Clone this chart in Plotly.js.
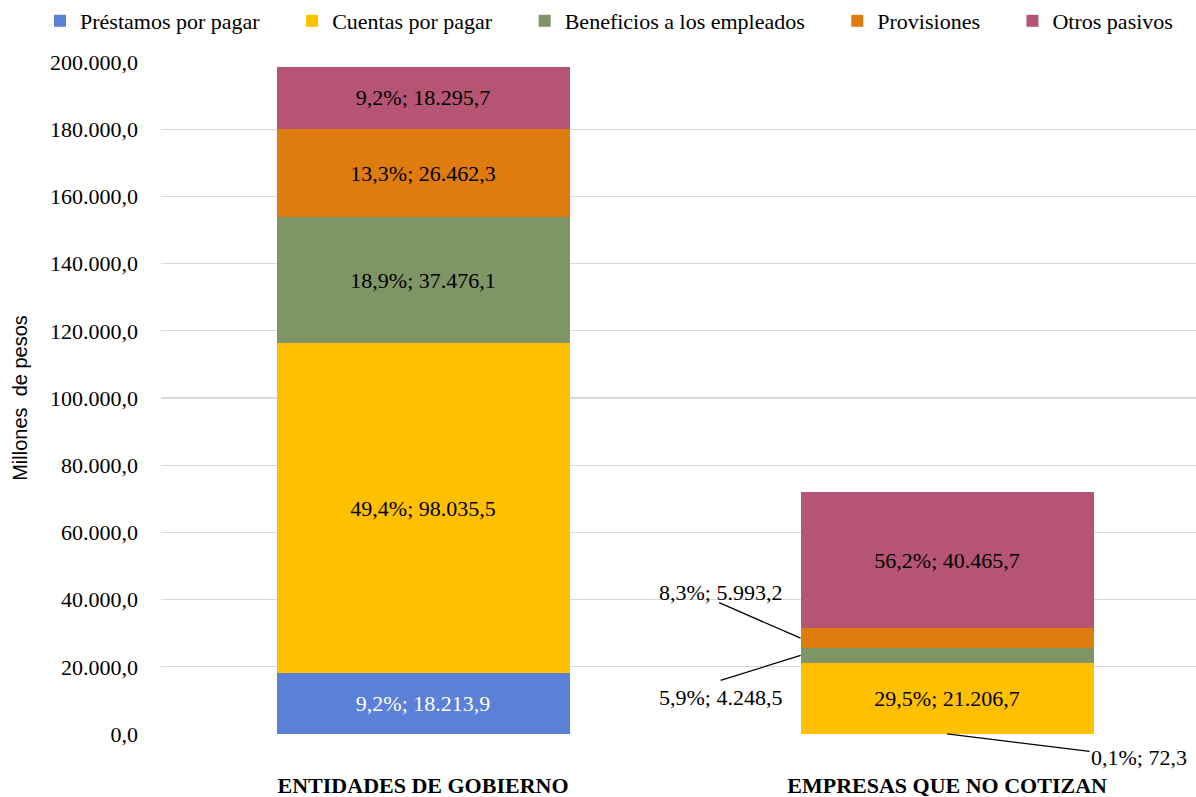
<!DOCTYPE html>
<html>
<head>
<meta charset="utf-8">
<script src="https://cdn.plot.ly/plotly-3.0.1.min.js"></script>
<style>
html,body{margin:0;padding:0;background:#ffffff;}
#chart{width:1196px;height:797px;}
</style>
</head>
<body>
<div id="chart"></div>
<script>
// ---- data ----
const categories = ['ENTIDADES DE GOBIERNO', 'EMPRESAS QUE NO COTIZAN'];
const seriesNames = ['Préstamos por pagar', 'Cuentas por pagar', 'Beneficios a los empleados', 'Provisiones', 'Otros pasivos'];
const prestamos = [18213.9, 72.3];
const cuentas = [98035.5, 21206.7];
const beneficios = [37476.1, 4248.5];
const provisiones = [26462.3, 5993.2];
const otros = [18295.7, 40465.7];
const yTickVals = [0, 20000, 40000, 60000, 80000, 100000, 120000, 140000, 160000, 180000, 200000];
const yTitle = 'Millones\u00a0 de pesos';

// ---- styles ----
const SERIF = 'Liberation Serif, Times New Roman, serif';
const SANS = 'Liberation Sans, Arial, sans-serif';
const colors = ['#5B80D7', '#FFC000', '#7E9566', '#DF7C10', '#B55473'];
const textColors = ['#FFFFFF', '#000000', '#000000', '#000000', '#000000'];
const barWidth = 0.559;
const seriesValues = [prestamos, cuentas, beneficios, provisiones, otros];

function fmtNum(v) {
  const parts = v.toFixed(1).split('.');
  return parts[0].replace(/\B(?=(\d{3})+(?!\d))/g, '.') + ',' + parts[1];
}
const totals = categories.map((c, i) => seriesValues.reduce((s, arr) => s + arr[i], 0));
function labelFor(v, i) { return fmtNum(v / totals[i] * 100) + '%; ' + fmtNum(v); }

// segments too thin for an inside label get a callout (style offsets in px)
const callouts = {
  '0-1': {anchor: 'center', tx: 192, ty: -23.5, arrow: true},
  '2-1': {anchor: 'left', tx: -80, ty: -42.5, lx: -80, ly: -25},
  '3-1': {anchor: 'left', tx: -80.5, ty: 46, lx: -81.5, ly: 35.5}
};

const pad = '\u00a0\u00a0\u00a0\u00a0\u00a0';
const traces = seriesValues.map((vals, s) => ({
  type: 'bar',
  name: seriesNames[s] + (s < seriesNames.length - 1 ? pad : ''),
  x: categories,
  y: vals,
  width: categories.map(() => barWidth),
  marker: {color: colors[s], line: {width: 0}},
  text: vals.map((v, i) => callouts[s + '-' + i] ? '' : labelFor(v, i)),
  textposition: 'inside',
  insidetextanchor: 'middle',
  textangle: 0,
  insidetextfont: {family: SERIF, size: 22, color: textColors[s]},
  hoverinfo: 'skip'
}));

const annotations = [];
const shapes = [];
Object.keys(callouts).forEach(key => {
  const [s, i] = key.split('-').map(Number);
  const c = callouts[key];
  const below = seriesValues.slice(0, s).reduce((acc, arr) => acc + arr[i], 0);
  const mid = below + seriesValues[s][i] / 2;
  const ax = c.anchor === 'left' ? i - barWidth / 2 : i;
  if (c.arrow) {
    annotations.push({
      xref: 'x', yref: 'y', x: ax, y: mid,
      text: labelFor(seriesValues[s][i], i),
      showarrow: true, arrowhead: 0, arrowwidth: 1.3, arrowcolor: '#000000',
      ax: c.tx, ay: -c.ty, standoff: 0,
      font: {family: SERIF, size: 22, color: '#000000'}
    });
  } else {
    annotations.push({
      xref: 'x', yref: 'y', x: ax, y: mid, xshift: c.tx, yshift: c.ty,
      text: labelFor(seriesValues[s][i], i), showarrow: false,
      font: {family: SERIF, size: 22, color: '#000000'}
    });
    shapes.push({
      type: 'line', xref: 'x', yref: 'y',
      xsizemode: 'pixel', ysizemode: 'pixel', xanchor: ax, yanchor: mid,
      x0: c.lx, y0: c.ly, x1: 0, y1: 0,
      line: {color: '#000000', width: 1.3}
    });
  }
});

const layout = {
  width: 1196, height: 797,
  margin: {l: 161, r: 0, t: 62, b: 63},
  paper_bgcolor: '#ffffff', plot_bgcolor: '#ffffff',
  separators: ',.',
  barmode: 'stack',
  font: {family: SERIF, size: 22, color: '#000000'},
  showlegend: true,
  legend: {
    orientation: 'h', traceorder: 'normal',
    xref: 'paper', yref: 'paper',
    x: (40 - 161) / 1035, xanchor: 'left', y: 1 + 62 / 672, yanchor: 'top',
    font: {family: SERIF, size: 22, color: '#000000'},
    bgcolor: 'rgba(0,0,0,0)', borderwidth: 0
  },
  xaxis: {
    type: 'category', range: [-0.5, 1.475],
    showgrid: false, zeroline: false, showline: false, ticks: '',
    tickfont: {family: SERIF, size: 22, color: '#000000', weight: 'bold'},
    ticklabelstandoff: 36, fixedrange: true
  },
  yaxis: {
    range: [0, 200000], tickvals: yTickVals, tickformat: ',.1f',
    showgrid: true, gridcolor: '#D9D9D9', gridwidth: 1.3,
    zeroline: false, showline: false, ticks: '',
    tickfont: {family: SERIF, size: 22, color: '#000000'},
    ticklabelstandoff: 22,
    title: {text: '\u00a0\u00a0\u00a0\u00a0\u00a0' + yTitle, font: {family: SANS, size: 20, color: '#000000'}, standoff: 17},
    fixedrange: true
  },
  annotations: annotations,
  shapes: shapes
};

Plotly.newPlot('chart', traces, layout, {displayModeBar: false, staticPlot: true});
</script>
</body>
</html>
